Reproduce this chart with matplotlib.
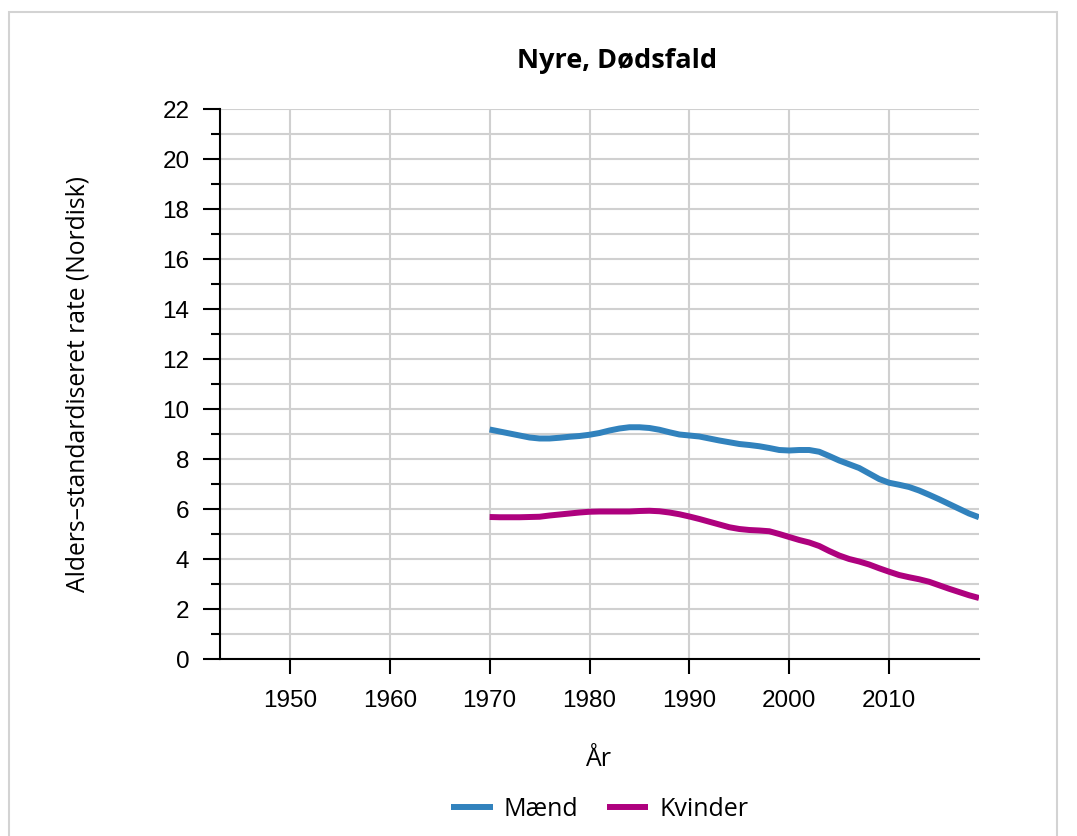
import matplotlib
matplotlib.use("Agg")
import matplotlib.pyplot as plt
from matplotlib.patches import Rectangle
from matplotlib.ticker import MultipleLocator

years = list(range(1970, 2020))
maend = [9.16, 9.08, 9.00, 8.92, 8.84, 8.80, 8.80, 8.83, 8.87, 8.90,
         8.95, 9.02, 9.12, 9.20, 9.25, 9.25, 9.22, 9.15, 9.05, 8.96,
         8.92, 8.88, 8.80, 8.72, 8.65, 8.58, 8.54, 8.49, 8.42, 8.34,
         8.32, 8.34, 8.34, 8.27, 8.10, 7.92, 7.77, 7.62, 7.40, 7.18,
         7.03, 6.95, 6.86, 6.72, 6.55, 6.37, 6.18, 5.99, 5.80, 5.65]
kvinder = [5.66, 5.65, 5.65, 5.65, 5.66, 5.67, 5.72, 5.76, 5.80, 5.84,
           5.87, 5.88, 5.88, 5.88, 5.88, 5.90, 5.91, 5.89, 5.84, 5.77,
           5.68, 5.58, 5.47, 5.36, 5.25, 5.18, 5.14, 5.12, 5.09, 4.98,
           4.86, 4.74, 4.64, 4.50, 4.30, 4.12, 3.98, 3.88, 3.76, 3.61,
           3.47, 3.34, 3.25, 3.17, 3.07, 2.93, 2.79, 2.66, 2.53, 2.42]
series_labels = ["Mænd", "Kvinder"]
series_colors = ["#3182bd", "#ae017e"]
x_ticks = [1950, 1960, 1970, 1980, 1990, 2000, 2010]
title = "Nyre, Dødsfald"
ylabel = "Alders–standardiseret rate (Nordisk)"
xlabel = "År"

W, H = 1077, 837
fig = plt.figure(figsize=(W / 100, H / 100), dpi=100)
fig.patch.set_facecolor("white")

# outer border
fig.patches.append(Rectangle((9 / W, -0.05), (1057 - 9) / W, 1.05 - 13 / H,
                             transform=fig.transFigure, fill=False,
                             edgecolor="#d3d3d3", linewidth=1.5))

ax = fig.add_axes([220 / W, 1 - 659.5 / H, (979 - 220) / W, (659.5 - 109.5) / H])
ax.set_xlim(1943, 2019)
ax.set_ylim(0, 22)

ax.yaxis.set_major_locator(MultipleLocator(2))
ax.yaxis.set_minor_locator(MultipleLocator(1))
ax.set_xticks(x_ticks)

ax.grid(True, which="both", axis="y", color="#d0d0d0", linewidth=1.5, zorder=0)
ax.grid(True, which="major", axis="x", color="#d0d0d0", linewidth=1.5, zorder=0)
ax.set_axisbelow(True)

for vals, lab, col in zip([maend, kvinder], series_labels, series_colors):
    ax.plot(years, vals, color=col, linewidth=4.3, label=lab,
            solid_capstyle="butt", zorder=3)

for s in ["top", "right"]:
    ax.spines[s].set_visible(False)
for s in ["left", "bottom"]:
    ax.spines[s].set_linewidth(1.5)
    ax.spines[s].set_color("black")

tick_font = "Liberation Sans"
text_font = "Open Sans"
ax.tick_params(axis="y", which="major", length=12, width=1.5, pad=10,
               labelsize=17.5)
ax.tick_params(axis="y", which="minor", length=6.5, width=1.5)
ax.tick_params(axis="x", which="major", length=11, width=1.5, pad=11,
               labelsize=17.5)
for lbl in ax.get_xticklabels() + ax.get_yticklabels():
    lbl.set_fontfamily(tick_font)

fig.text(78 / W, 1 - 384 / H, ylabel, rotation=90, ha="center", va="center",
         fontsize=17.7, family=text_font)
fig.text(617 / W, 1 - 61 / H, title, ha="center", va="center",
         fontsize=19.5, fontweight="bold", family=text_font)
fig.text(598 / W, 1 - 760 / H, xlabel, ha="center", va="center",
         fontsize=18, family=text_font)

handles, labels = ax.get_legend_handles_labels()
fig.legend(handles, labels, loc="center", bbox_to_anchor=(600 / W, 1 - 810 / H),
           ncol=2, frameon=False, prop={"family": text_font, "size": 18},
           handlelength=1.65, handletextpad=0.45, columnspacing=1.15)

fig.savefig("out.png", dpi=100)
